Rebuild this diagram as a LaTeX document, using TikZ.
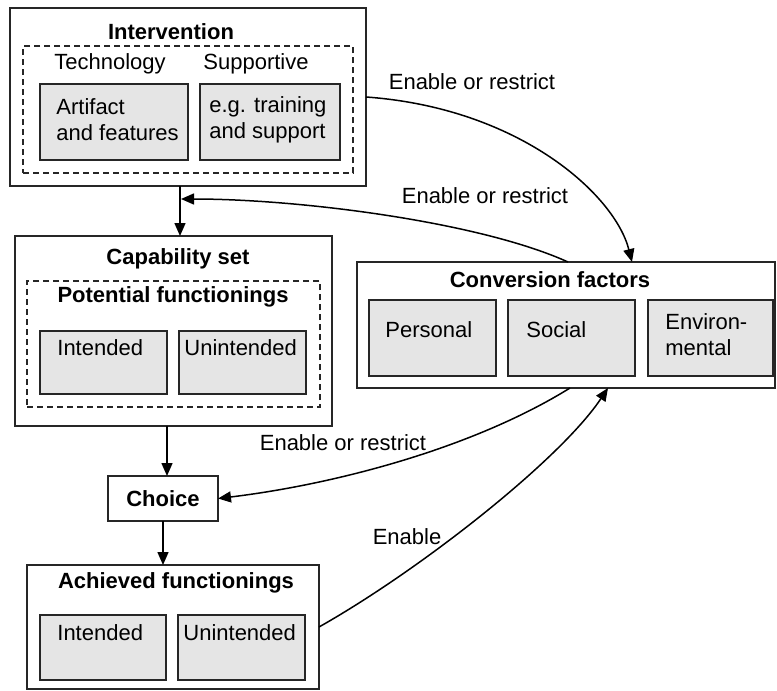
\documentclass[tikz,border=0pt]{standalone}
\usepackage{fontspec}
\setmainfont{Liberation Sans}
\usetikzlibrary{arrows.meta,calc}
\begin{document}
\begin{tikzpicture}[x=0.5pt,y=-0.5pt,
  font=\fontsize{11}{13}\selectfont,
  outerbox/.style={draw=black!85,line width=0.9pt,fill=white,inner sep=0pt,outer sep=0pt},
  dashbox/.style={draw=black!85,line width=0.8pt,dash pattern=on 3pt off 2pt,inner sep=0pt,outer sep=0pt},
  graybox/.style={draw=black!85,line width=0.8pt,fill=black!10,inner sep=0pt,outer sep=0pt},
  ttl/.style={font=\fontsize{11}{13}\selectfont\bfseries,inner sep=0pt},
  lbl/.style={inner sep=0pt,align=left,anchor=west},
  arr/.style={line width=0.75pt,-{Triangle[length=6.5pt,width=5.5pt]}}]
\useasboundingbox (0,0) rectangle (777,691);
\fill[white] (0,0) rectangle (777,691);

% Intervention
\node[outerbox,minimum width=178pt,minimum height=89pt] (interv) at (188,97) {};
\node[dashbox,minimum width=165pt,minimum height=63.5pt] (intdash) at (188,109.5) {};
\node[graybox,minimum width=74pt,minimum height=38pt] (tech) at (114,122) {};
\node[graybox,minimum width=70pt,minimum height=38pt] (supp) at (270,122) {};
\node[ttl] (intT) at (171,32) {Intervention};
\node[inner sep=0pt] (techT) at (110,64) {Technology};
\node[inner sep=0pt] (suppT) at (256,64) {Supportive};
\node[lbl] (techL) at (56,120) {Artifact\\and features};
\node[lbl] (suppL) at (209,120) {e.g. training\\and support};

% Capability set
\node[outerbox,minimum width=158.5pt,minimum height=95pt] (cap) at (173.5,331) {};
\node[dashbox,minimum width=146.5pt,minimum height=63pt] (capdash) at (173.5,344) {};
\node[graybox,minimum width=63.5pt,minimum height=31.5pt] (capI) at (103.5,362.5) {};
\node[graybox,minimum width=63.5pt,minimum height=31.5pt] (capU) at (242.5,362.5) {};
\node[ttl] (capT) at (178,259) {Capability set};
\node[ttl] (potT) at (173,297) {Potential functionings};
\node[lbl] (capIL) at (57,348) {Intended};
\node[lbl] (capUL) at (184,348) {Unintended};

% Conversion factors
\node[outerbox,minimum width=209pt,minimum height=63pt] (conv) at (566,325) {};
\node[graybox,minimum width=63.5pt,minimum height=38pt] (pers) at (432.5,338) {};
\node[graybox,minimum width=63.5pt,minimum height=38pt] (soc) at (571.5,338) {};
\node[graybox,minimum width=62.5pt,minimum height=38pt] (env) at (710.5,338) {};
\node[ttl] (convT) at (550,280) {Conversion factors};
\node[lbl] (persL) at (385,330) {Personal};
\node[lbl] (socL) at (526,330) {Social};
\node[lbl] (envL) at (665,335) {Environ-\\mental};

% Choice
\node[outerbox,minimum width=55pt,minimum height=22.5pt,font=\fontsize{11}{13}\selectfont\bfseries] (choice) at (163,498.5) {Choice};

% Achieved functionings
\node[outerbox,minimum width=146pt,minimum height=62pt] (ach) at (173,627) {};
\node[graybox,minimum width=63pt,minimum height=32.5pt] (achI) at (103,647.5) {};
\node[graybox,minimum width=63.5pt,minimum height=32.5pt] (achU) at (241.5,647.5) {};
\node[ttl] (achT) at (176,583) {Achieved functionings};
\node[lbl] (achIL) at (57,633) {Intended};
\node[lbl] (achUL) at (183,633) {Unintended};

% vertical arrows
\draw[arr] ($(interv.south)+(-8,0)$) coordinate (a1) -- (a1 |- cap.north);
\draw[arr] ($(cap.south)+(-6.5,0)$) coordinate (a2) -- (a2 |- choice.north);
\draw[arr] (choice.south) -- (choice.south |- ach.north);
\coordinate (fb) at ($(a1)+(1,13)$);

% curved arrows
\draw[arr] (interv.east) .. controls (520,108) and (615,195) .. ($(conv.north west)+(275,0)$);
\draw[arr] ($(conv.north west)+(211,0)$) .. controls (480,222) and (300,199) .. (fb);
\draw[arr] ($(conv.south west)+(213,0)$) .. controls (470,450) and (330,485) .. (choice.east);
\draw[arr] (ach.east) .. controls (420,570) and (560,460) .. ($(conv.south west)+(251,0)$);

% labels
\node[inner sep=0pt] (l1) at (472,82) {Enable or restrict};
\node[inner sep=0pt] (l2) at (485,196) {Enable or restrict};
\node[inner sep=0pt] (l3) at (343,443) {Enable or restrict};
\node[inner sep=0pt] (l4) at (407,537) {Enable};
\end{tikzpicture}
\end{document}
